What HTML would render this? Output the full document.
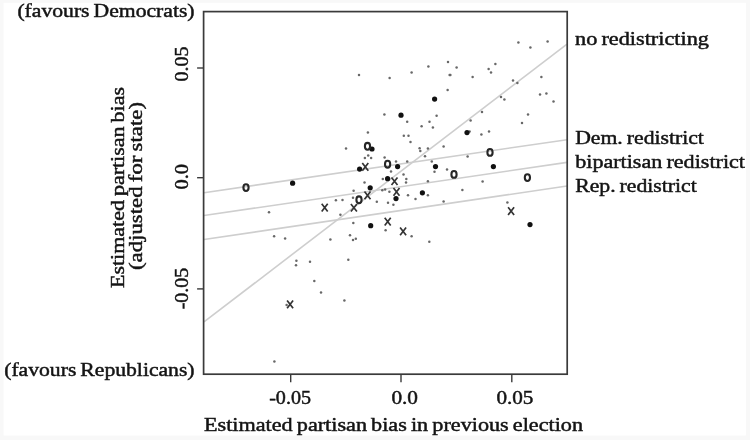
<!DOCTYPE html>
<html lang="en"><head><meta charset="utf-8"><title>Partisan bias plot</title>
<style>
html,body{margin:0;padding:0;background:#fff;}
body{width:750px;height:440px;overflow:hidden;position:relative;}
svg{display:block;position:absolute;left:0;top:0;}
text{font-family:"Liberation Serif",serif;fill:#141414;stroke:#141414;stroke-width:0.46px;word-spacing:-1.2px;}
</style></head><body>
<svg width="750" height="440" viewBox="0 0 750 440">
<rect x="0" y="0" width="750" height="440" fill="#f8f8f8"/>
<rect x="3.6" y="2.8" width="742.3" height="432.7" fill="#ffffff"/>

<g stroke="#cecece" stroke-width="1.6" fill="none" stroke-linecap="butt">
<line x1="204" y1="321.9" x2="567" y2="44.2"/>
<line x1="204" y1="192.7" x2="567" y2="139.7"/>
<line x1="204" y1="215.5" x2="567" y2="162.4"/>
<line x1="204" y1="239.5" x2="567" y2="186.0"/>
</g>
<rect x="203.6" y="11.6" width="363.6" height="362.6" fill="none" stroke="#3a3a3a" stroke-width="1.7"/>
<g stroke="#3a3a3a" stroke-width="1.4">
<line x1="290.7" y1="374.2" x2="290.7" y2="382.2"/>
<line x1="401" y1="374.2" x2="401" y2="382.2"/>
<line x1="511.8" y1="374.2" x2="511.8" y2="382.2"/>
<line x1="197.1" y1="68" x2="203.6" y2="68"/>
<line x1="197.1" y1="177.7" x2="203.6" y2="177.7"/>
<line x1="197.1" y1="288.9" x2="203.6" y2="288.9"/>
</g>
<g fill="#686868">
<circle cx="359" cy="75" r="1.25"/>
<circle cx="389.6" cy="78" r="1.25"/>
<circle cx="411.6" cy="72.4" r="1.25"/>
<circle cx="428.4" cy="66.4" r="1.25"/>
<circle cx="448" cy="62" r="1.25"/>
<circle cx="449.6" cy="75" r="1.25"/>
<circle cx="447.6" cy="90" r="1.25"/>
<circle cx="384.4" cy="114.6" r="1.25"/>
<circle cx="436.6" cy="115.8" r="1.25"/>
<circle cx="518.4" cy="42.6" r="1.25"/>
<circle cx="530.4" cy="47.6" r="1.25"/>
<circle cx="547.6" cy="41.6" r="1.25"/>
<circle cx="456.6" cy="67.6" r="1.25"/>
<circle cx="450.4" cy="75" r="1.25"/>
<circle cx="472.6" cy="77" r="1.25"/>
<circle cx="495.4" cy="64" r="1.25"/>
<circle cx="488.6" cy="69" r="1.25"/>
<circle cx="491" cy="72.6" r="1.25"/>
<circle cx="513" cy="80.4" r="1.25"/>
<circle cx="517.4" cy="83" r="1.25"/>
<circle cx="541.4" cy="77" r="1.25"/>
<circle cx="501" cy="97" r="1.25"/>
<circle cx="540" cy="94.6" r="1.25"/>
<circle cx="546.4" cy="93.6" r="1.25"/>
<circle cx="407.2" cy="121.7" r="1.25"/>
<circle cx="429.5" cy="121.7" r="1.25"/>
<circle cx="421.6" cy="126.2" r="1.25"/>
<circle cx="432.9" cy="127.5" r="1.25"/>
<circle cx="367.9" cy="132.5" r="1.25"/>
<circle cx="403.8" cy="135.8" r="1.25"/>
<circle cx="408.5" cy="135.8" r="1.25"/>
<circle cx="410.5" cy="142" r="1.25"/>
<circle cx="346" cy="148.6" r="1.25"/>
<circle cx="419.6" cy="148.2" r="1.25"/>
<circle cx="420.3" cy="151" r="1.25"/>
<circle cx="427.9" cy="148.6" r="1.25"/>
<circle cx="368.2" cy="155.6" r="1.25"/>
<circle cx="364.9" cy="158.1" r="1.25"/>
<circle cx="371.1" cy="158.1" r="1.25"/>
<circle cx="384.6" cy="157.6" r="1.25"/>
<circle cx="425" cy="156.2" r="1.25"/>
<circle cx="396" cy="161.5" r="1.25"/>
<circle cx="407.2" cy="161.5" r="1.25"/>
<circle cx="431.8" cy="161.5" r="1.25"/>
<circle cx="391" cy="171.6" r="1.25"/>
<circle cx="434.5" cy="171.8" r="1.25"/>
<circle cx="403.5" cy="174.6" r="1.25"/>
<circle cx="382.8" cy="179" r="1.25"/>
<circle cx="406.3" cy="179" r="1.25"/>
<circle cx="406" cy="182.4" r="1.25"/>
<circle cx="427.9" cy="181.2" r="1.25"/>
<circle cx="364.5" cy="182.4" r="1.25"/>
<circle cx="382.3" cy="190.2" r="1.25"/>
<circle cx="385.1" cy="189.5" r="1.25"/>
<circle cx="389.4" cy="191.8" r="1.25"/>
<circle cx="353.6" cy="190.7" r="1.25"/>
<circle cx="408" cy="195.3" r="1.25"/>
<circle cx="427.9" cy="195.3" r="1.25"/>
<circle cx="415.5" cy="199" r="1.25"/>
<circle cx="342.5" cy="200.1" r="1.25"/>
<circle cx="353" cy="197.8" r="1.25"/>
<circle cx="376.8" cy="201.8" r="1.25"/>
<circle cx="388" cy="202.8" r="1.25"/>
<circle cx="393.4" cy="204.8" r="1.25"/>
<circle cx="340.4" cy="214.7" r="1.25"/>
<circle cx="353.3" cy="223" r="1.25"/>
<circle cx="385.6" cy="230.3" r="1.25"/>
<circle cx="411.6" cy="236.2" r="1.25"/>
<circle cx="429.3" cy="241.8" r="1.25"/>
<circle cx="350" cy="235.2" r="1.25"/>
<circle cx="353" cy="239.9" r="1.25"/>
<circle cx="355.8" cy="238.7" r="1.25"/>
<circle cx="348.3" cy="259.8" r="1.25"/>
<circle cx="269" cy="212.2" r="1.25"/>
<circle cx="335.9" cy="200.3" r="1.25"/>
<circle cx="274.1" cy="236.3" r="1.25"/>
<circle cx="285.1" cy="238.4" r="1.25"/>
<circle cx="330.4" cy="239.6" r="1.25"/>
<circle cx="296.4" cy="260.7" r="1.25"/>
<circle cx="296" cy="265.3" r="1.25"/>
<circle cx="310" cy="261.8" r="1.25"/>
<circle cx="314.3" cy="281" r="1.25"/>
<circle cx="321" cy="292.5" r="1.25"/>
<circle cx="286.6" cy="305" r="1.25"/>
<circle cx="344.4" cy="300.4" r="1.25"/>
<circle cx="274.4" cy="361.6" r="1.25"/>
<circle cx="504.4" cy="99.4" r="1.25"/>
<circle cx="482" cy="112" r="1.25"/>
<circle cx="528" cy="114.4" r="1.25"/>
<circle cx="470.6" cy="120.6" r="1.25"/>
<circle cx="522" cy="123" r="1.25"/>
<circle cx="469.6" cy="131.4" r="1.25"/>
<circle cx="489" cy="131.4" r="1.25"/>
<circle cx="481.4" cy="134.4" r="1.25"/>
<circle cx="553.5" cy="101.6" r="1.25"/>
<circle cx="443.6" cy="146.4" r="1.25"/>
<circle cx="467.6" cy="156.6" r="1.25"/>
<circle cx="447" cy="169.6" r="1.25"/>
<circle cx="482.6" cy="181.4" r="1.25"/>
<circle cx="462.4" cy="190" r="1.25"/>
<circle cx="443.6" cy="201.6" r="1.25"/>
<circle cx="507.4" cy="202.6" r="1.25"/>
</g>
<g fill="#111">
<circle cx="434.6" cy="99.1" r="2.6"/>
<circle cx="401" cy="115.2" r="2.6"/>
<circle cx="372" cy="149" r="2.6"/>
<circle cx="397.6" cy="166.6" r="2.6"/>
<circle cx="435.5" cy="166.6" r="2.6"/>
<circle cx="359.6" cy="169.1" r="2.6"/>
<circle cx="387.6" cy="178.7" r="2.6"/>
<circle cx="370.2" cy="187.8" r="2.6"/>
<circle cx="422.4" cy="192.8" r="2.6"/>
<circle cx="396" cy="198.6" r="2.6"/>
<circle cx="370.7" cy="225.7" r="2.6"/>
<circle cx="292.6" cy="183.2" r="2.6"/>
<circle cx="467" cy="132.6" r="2.6"/>
<circle cx="493.4" cy="166.6" r="2.6"/>
<circle cx="530" cy="224.6" r="2.6"/>
</g>
<g fill="none" stroke="#262626" stroke-width="2.1">
<ellipse cx="367.5" cy="146.3" rx="2.6" ry="3.4"/>
<ellipse cx="387.6" cy="164.2" rx="2.6" ry="3.4"/>
<ellipse cx="359" cy="199.8" rx="2.6" ry="3.4"/>
<ellipse cx="246" cy="187.6" rx="2.6" ry="3.4"/>
<ellipse cx="490" cy="152.4" rx="2.6" ry="3.4"/>
<ellipse cx="454" cy="174.4" rx="2.6" ry="3.4"/>
<ellipse cx="527.4" cy="177.6" rx="2.6" ry="3.4"/>
</g>
<g fill="none" stroke="#333" stroke-width="1.7">
<path d="M362.3 163.0L368.3 170.7M368.3 163.0L362.3 170.7"/>
<path d="M391.5 177.4L397.5 185.1M397.5 177.4L391.5 185.1"/>
<path d="M393.5 188.0L399.5 195.7M399.5 188.0L393.5 195.7"/>
<path d="M364.5 191.5L370.5 199.2M370.5 191.5L364.5 199.2"/>
<path d="M350.9 203.9L356.9 211.6M356.9 203.9L350.9 211.6"/>
<path d="M384.7 217.7L390.7 225.4M390.7 217.7L384.7 225.4"/>
<path d="M400.1 227.5L406.1 235.2M406.1 227.5L400.1 235.2"/>
<path d="M321.7 203.8L327.7 211.5M327.7 203.8L321.7 211.5"/>
<path d="M287.1 300.6L293.1 308.3M293.1 300.6L287.1 308.3"/>
<path d="M508.1 207.2L514.1 214.9M514.1 207.2L508.1 214.9"/>
</g>
<text x="17.4" y="17.4" font-size="18.6" textLength="177.2" lengthAdjust="spacingAndGlyphs">(favours Democrats)</text>
<text x="4.2" y="375.8" font-size="18.6" textLength="190.4" lengthAdjust="spacingAndGlyphs">(favours Republicans)</text>
<text x="575" y="45" font-size="18.6" textLength="134" lengthAdjust="spacingAndGlyphs">no redistricting</text>
<text x="575.2" y="143.7" font-size="18.6" textLength="128.7" lengthAdjust="spacingAndGlyphs">Dem. redistrict</text>
<text x="575.2" y="167.8" font-size="18.6" textLength="169.8" lengthAdjust="spacingAndGlyphs">bipartisan redistrict</text>
<text x="575.2" y="192.3" font-size="18.6" textLength="121.6" lengthAdjust="spacingAndGlyphs">Rep. redistrict</text>
<text x="269.2" y="403.8" font-size="18.6" textLength="41.8" lengthAdjust="spacingAndGlyphs">-0.05</text>
<text x="391.4" y="403.8" font-size="18.6" textLength="26.6" lengthAdjust="spacingAndGlyphs">0.0</text>
<text x="496.4" y="403.8" font-size="18.6" textLength="37" lengthAdjust="spacingAndGlyphs">0.05</text>
<text x="204" y="431.2" font-size="18.6" textLength="379" lengthAdjust="spacingAndGlyphs">Estimated partisan bias in previous election</text>
<text transform="translate(188 81.6) rotate(-90)" font-size="18.6" textLength="35.2" lengthAdjust="spacingAndGlyphs">0.05</text>
<text transform="translate(188 189.5) rotate(-90)" font-size="18.6" textLength="25.6" lengthAdjust="spacingAndGlyphs">0.0</text>
<text transform="translate(188 309.3) rotate(-90)" font-size="18.6" textLength="41.6" lengthAdjust="spacingAndGlyphs">-0.05</text>
<text transform="translate(124 288) rotate(-90)" font-size="18.6" textLength="201" lengthAdjust="spacingAndGlyphs">Estimated partisan bias</text>
<text transform="translate(141.8 270) rotate(-90)" font-size="18.6" textLength="168" lengthAdjust="spacingAndGlyphs">(adjusted for state)</text>
</svg></body></html>
